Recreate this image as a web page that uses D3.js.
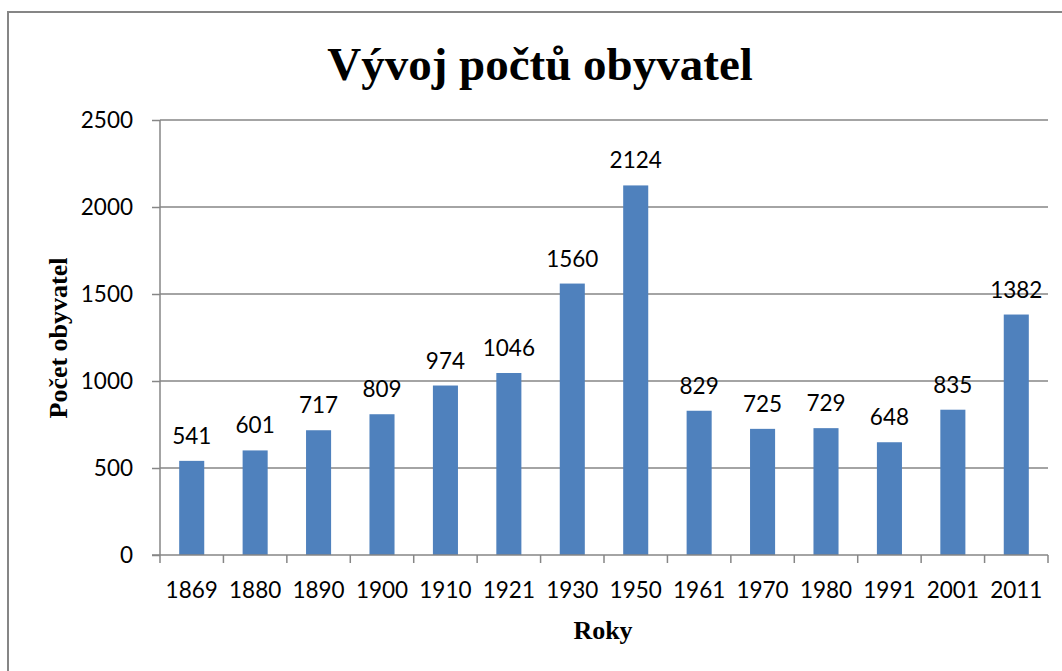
<!DOCTYPE html>
<html>
<head>
<meta charset="utf-8">
<script src="https://cdn.jsdelivr.net/npm/d3@7"></script>
<style>
  body { margin: 0; background: #fff; }
  svg { display: block; }
</style>
</head>
<body>
<div id="chart"></div>
<script>
// hodnoty z grafu
const years = ["1869", "1880", "1890", "1900", "1910", "1921", "1930", "1950", "1961", "1970", "1980", "1991", "2001", "2011"];
const population = [541, 601, 717, 809, 974, 1046, 1560, 2124, 829, 725, 729, 648, 835, 1382];
const yTicks = [0, 500, 1000, 1500, 2000, 2500];

const W = 1062, H = 671;
const margin = {top: 120, right: 14, bottom: 116, left: 160};
const numFont = "Lato, 'Open Sans', sans-serif";
const serif = "'Liberation Serif', 'Times New Roman', serif";

let svg = d3.select("#chart")
    .append("svg")
    .attr("width", W)
    .attr("height", H);

// ramecek (jen levy a horni okraj je videt)
svg.append("path")
    .attr("d", "M8,671 L8,12 L1062,12")
    .attr("fill", "none")
    .attr("stroke", "#868686")
    .attr("stroke-width", 2);

let x = d3.scaleBand()
    .domain(years)
    .range([margin.left, W - margin.right])
    .paddingInner(0.605)
    .paddingOuter(0.3025);

let xTickScale = d3.scaleLinear()
    .domain([0, years.length])
    .range([margin.left, W - margin.right]);

let y = d3.scaleLinear()
    .domain([0, 2500])
    .range([H - margin.bottom, margin.top]);

// mrizka
svg.append("g")
    .selectAll("line")
    .data(yTicks.filter(d => d > 0))
    .enter()
    .append("line")
    .attr("x1", margin.left)
    .attr("x2", W - margin.right)
    .attr("y1", d => y(d))
    .attr("y2", d => y(d))
    .attr("stroke", "#868686")
    .attr("stroke-width", 1.3);

// osa y
let yAxis = svg.append("g")
    .attr("transform", "translate(" + margin.left + ",0)")
    .call(d3.axisLeft(y).tickValues(yTicks).tickSize(8).tickPadding(19).tickFormat(d3.format("d")));
yAxis.select(".domain").attr("stroke", "#868686").attr("stroke-width", 1.5)
    .attr("d", "M0," + y(2500) + "V" + y(0));
yAxis.selectAll(".tick line").attr("stroke", "#868686").attr("stroke-width", 1.5);
yAxis.selectAll(".tick text")
    .attr("fill", "#000")
    .style("font-family", numFont)
    .style("font-size", "22.5px");

// sloupce
svg.append("g")
    .selectAll("rect")
    .data(population)
    .enter()
    .append("rect")
    .attr("x", (d, i) => x(years[i]))
    .attr("y", d => y(d))
    .attr("width", x.bandwidth())
    .attr("height", d => y(0) - y(d))
    .attr("fill", "#4f81bd");

// popisky hodnot
svg.append("g")
    .selectAll("text")
    .data(population)
    .enter()
    .append("text")
    .attr("x", (d, i) => x(years[i]) + x.bandwidth() / 2)
    .attr("y", d => y(d) - 17)
    .attr("text-anchor", "middle")
    .style("font-family", numFont)
    .style("font-size", "22.5px")
    .text(d => d);

// osa x
let xAxis = svg.append("g");
xAxis.append("line")
    .attr("x1", margin.left - 8)
    .attr("x2", W - margin.right)
    .attr("y1", y(0))
    .attr("y2", y(0))
    .attr("stroke", "#868686")
    .attr("stroke-width", 1.5);
xAxis.selectAll(".xtick")
    .data(d3.range(years.length + 1))
    .enter()
    .append("line")
    .attr("x1", d => xTickScale(d))
    .attr("x2", d => xTickScale(d))
    .attr("y1", y(0))
    .attr("y2", y(0) + 8)
    .attr("stroke", "#868686")
    .attr("stroke-width", 1.5);
xAxis.selectAll("text")
    .data(years)
    .enter()
    .append("text")
    .attr("x", d => x(d) + x.bandwidth() / 2)
    .attr("y", y(0) + 43)
    .attr("text-anchor", "middle")
    .style("font-family", numFont)
    .style("font-size", "22.5px")
    .text(d => d);

// nadpisy
svg.append("text")
    .attr("x", 540)
    .attr("y", 80)
    .attr("text-anchor", "middle")
    .style("font-family", serif)
    .style("font-weight", "bold")
    .style("font-size", "47px")
    .text("Vývoj počtů obyvatel");

svg.append("text")
    .attr("transform", "translate(67," + 338 + ") rotate(-90)")
    .attr("text-anchor", "middle")
    .style("font-family", serif)
    .style("font-weight", "bold")
    .style("font-size", "26px")
    .text("Počet obyvatel");

svg.append("text")
    .attr("x", 603)
    .attr("y", 639)
    .attr("text-anchor", "middle")
    .style("font-family", serif)
    .style("font-weight", "bold")
    .style("font-size", "26px")
    .text("Roky");
</script>
</body>
</html>
